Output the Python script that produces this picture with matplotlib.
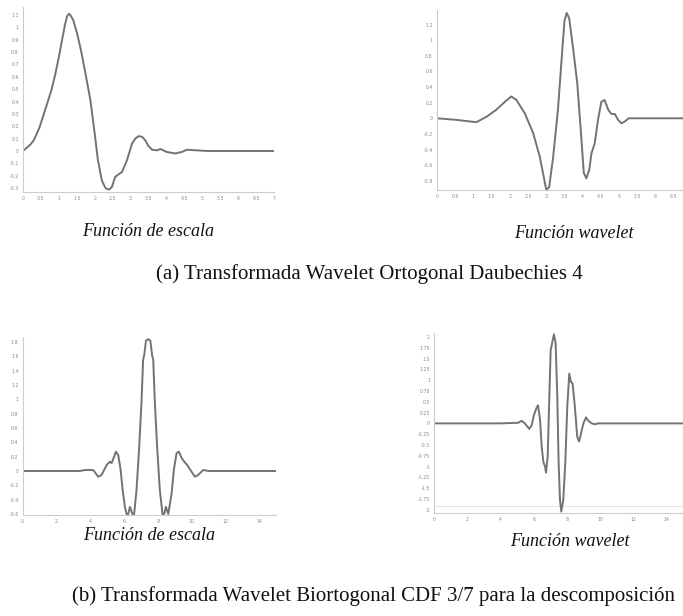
import matplotlib
matplotlib.use("Agg")
import matplotlib.pyplot as plt

# (a) Daubechies 4 - scaling function
db_phi_x = [0, 0.2, 0.3, 0.46, 0.67, 0.8, 0.9, 1.0, 1.09, 1.17, 1.23, 1.28, 1.32,
            1.4, 1.51, 1.62, 1.74, 1.88, 2.0, 2.09, 2.2, 2.3, 2.36, 2.42, 2.48,
            2.57, 2.66, 2.76, 2.9, 3.04, 3.13, 3.22, 3.32, 3.41, 3.5, 3.6, 3.74,
            3.83, 3.92, 4.01, 4.25, 4.43, 4.57, 4.85, 5.13, 6.0, 7.0]
db_phi_y = [0, 0.05, 0.086, 0.19, 0.38, 0.5, 0.62, 0.76, 0.9, 1.02, 1.09, 1.11, 1.10,
            1.06, 0.95, 0.81, 0.63, 0.41, 0.14, -0.075, -0.24, -0.3, -0.31, -0.31, -0.29,
            -0.21, -0.19, -0.17, -0.075, 0.06, 0.1, 0.12, 0.115, 0.086, 0.04, 0.01, 0.005,
            0.016, 0.005, -0.008, -0.02, -0.008, 0.01, 0.005, 0, 0, 0]

# (a) Daubechies 4 - wavelet function
db_psi_x = [0, 0.53, 1.08, 1.36, 1.63, 1.86, 2.04, 2.18, 2.41, 2.64, 2.82, 2.93, 3.0,
            3.08, 3.19, 3.32, 3.44, 3.5, 3.56, 3.63, 3.74, 3.85, 3.94, 4.03, 4.1,
            4.18, 4.24, 4.33, 4.42, 4.51, 4.6, 4.7, 4.79, 4.88, 4.97, 5.06, 5.15,
            5.26, 6.0, 7.0]
db_psi_y = [0, -0.02, -0.05, 0.02, 0.11, 0.21, 0.28, 0.235, 0.064, -0.19, -0.49, -0.75, -0.92,
            -0.88, -0.49, 0.11, 0.88, 1.25, 1.35, 1.28, 0.88, 0.45, -0.11, -0.7, -0.77,
            -0.66, -0.45, -0.32, -0.02, 0.21, 0.235, 0.11, 0.055, 0.055, -0.02, -0.064, -0.043,
            0, 0, 0]

# (b) CDF 3/7 - scaling function
cdf_phi_x = [0, 3.39, 3.68, 4.18, 4.47, 4.67, 4.97, 5.17, 5.27, 5.52, 5.66, 5.8, 5.92,
             6.05, 6.15, 6.25, 6.35, 6.5, 6.6, 6.74, 6.9, 7.04, 7.13, 7.2, 7.3, 7.43,
             7.56, 7.66, 7.73, 7.82, 7.96, 8.12, 8.28, 8.38, 8.48, 8.62, 8.82, 8.95,
             9.11, 9.25, 9.41, 9.6, 9.74, 10.0, 10.2, 10.39, 10.69, 11.0, 15.0]
cdf_phi_y = [0, 0, 0.014, 0.014, -0.08, -0.056, 0.084, 0.13, 0.11, 0.27, 0.22, 0.014, -0.265,
             -0.5, -0.6, -0.6, -0.5, -0.6, -0.6, -0.265, 0.34, 0.99, 1.55, 1.62, 1.82, 1.84,
             1.82, 1.62, 1.55, 0.99, 0.34, -0.265, -0.6, -0.6, -0.5, -0.6, -0.31, 0.014,
             0.25, 0.27, 0.18, 0.12, 0.084, -0.01, -0.08, -0.056, 0.014, 0, 0]

# (b) CDF 3/7 - wavelet function
cdf_psi_x = [0, 3.96, 5.06, 5.26, 5.46, 5.72, 5.87, 6.0, 6.17, 6.25, 6.37, 6.47, 6.57,
             6.67, 6.73, 6.83, 6.93, 7.01, 7.13, 7.21, 7.31, 7.41, 7.49, 7.57, 7.65,
             7.77, 7.89, 8.01, 8.13, 8.23, 8.33, 8.47, 8.61, 8.72, 8.84, 8.98, 9.14,
             9.28, 9.48, 9.68, 9.88, 15.0]
cdf_psi_y = [0, 0, 0.014, 0.06, 0, -0.13, -0.04, 0.19, 0.37, 0.42, 0.08, -0.54, -0.89,
             -1.0, -1.14, -0.77, 0.61, 1.69, 1.92, 2.06, 1.85, 0.61, -0.92, -1.77, -2.04,
             -1.77, -0.92, 0.38, 1.15, 0.96, 0.92, 0.38, -0.31, -0.42, -0.23, 0, 0.14,
             0.06, 0, -0.02, 0, 0]

# ticks
ticks_x_db = [0, 0.5, 1, 1.5, 2, 2.5, 3, 3.5, 4, 4.5, 5, 5.5, 6, 6.5, 7]
ticks_x_db_right = [0, 0.5, 1, 1.5, 2, 2.5, 3, 3.5, 4, 4.5, 5, 5.5, 6, 6.5]
ticks_y_db_phi = [-0.3, -0.2, -0.1, 0, 0.1, 0.2, 0.3, 0.4, 0.5, 0.6, 0.7, 0.8, 0.9, 1, 1.1]
ticks_y_db_psi = [-0.8, -0.6, -0.4, -0.2, 0, 0.2, 0.4, 0.6, 0.8, 1, 1.2]
ticks_x_cdf = [0, 2, 4, 6, 8, 10, 12, 14]
ticks_y_cdf_phi = [-0.6, -0.4, -0.2, 0, 0.2, 0.4, 0.6, 0.8, 1, 1.2, 1.4, 1.6, 1.8]
ticks_y_cdf_psi = [-2, -1.75, -1.5, -1.25, -1, -0.75, -0.5, -0.25, 0, 0.25, 0.5, 0.75,
                   1, 1.25, 1.5, 1.75, 2]

W, H = 683, 616
fig = plt.figure(figsize=(W / 100, H / 100), dpi=100)
fig.patch.set_facecolor("white")


def make_ax(x0, x1, ytop, ybot):
    # pixel box -> figure fraction
    return fig.add_axes([x0 / W, (H - ybot) / H, (x1 - x0) / W, (ybot - ytop) / H])


def style(ax, xt, yt, xlim, ylim):
    ax.set_xlim(*xlim)
    ax.set_ylim(*ylim)
    ax.set_xticks(xt)
    ax.set_yticks(yt)
    ax.set_xticklabels([f"{v:g}" for v in xt])
    ax.set_yticklabels([f"{v:g}" for v in yt])
    for s in ["top", "right"]:
        ax.spines[s].set_visible(False)
    for s in ["left", "bottom"]:
        ax.spines[s].set_color("#cccccc")
        ax.spines[s].set_linewidth(0.8)
    ax.tick_params(length=0, labelsize=3.4, labelcolor="#8a8a8a", pad=3)


line_kw = dict(color="#737373", lw=1.4)

ax1 = make_ax(23, 274, 7, 192)
ax1.plot(db_phi_x, db_phi_y, **line_kw)
style(ax1, ticks_x_db, ticks_y_db_phi, (0, 7), (-0.332, 1.165))

ax2 = make_ax(437, 692, 10, 190)
ax2.plot(db_psi_x, db_psi_y, **line_kw)
style(ax2, ticks_x_db_right, ticks_y_db_psi, (0, 7), (-0.919, 1.388))

ax3 = make_ax(22.7, 276, 337, 515)
ax3.plot(cdf_phi_x, cdf_phi_y, **line_kw)
style(ax3, ticks_x_cdf, ticks_y_cdf_phi, (0, 15), (-0.614, 1.87))

ax4 = make_ax(434.3, 683.3, 333, 512.7)
ax4.axhline(-1.9, color="#dddddd", lw=0.6)
ax4.plot(cdf_psi_x, cdf_psi_y, **line_kw)
style(ax4, ticks_x_cdf, ticks_y_cdf_psi, (0, 15), (-2.065, 2.09))

cap_kw = dict(family="Liberation Serif", style="italic", fontsize=13,
              ha="center", va="center", color="#111111")
ttl_kw = dict(family="Liberation Serif", fontsize=15, ha="center", va="center",
              color="#111111")

fig.text(148 / W, 1 - 231 / H, "Función de escala", **cap_kw)
fig.text(574 / W, 1 - 233 / H, "Función wavelet", **cap_kw)
fig.text(369 / W, 1 - 274 / H, "(a) Transformada Wavelet Ortogonal Daubechies 4", **ttl_kw)
fig.text(149 / W, 1 - 536 / H, "Función de escala", **cap_kw)
fig.text(570 / W, 1 - 541 / H, "Función wavelet", **cap_kw)
fig.text(373 / W, 1 - 596 / H,
         "(b) Transformada Wavelet Biortogonal CDF 3/7 para la descomposición", **ttl_kw)

fig.savefig("out.png", dpi=100)
